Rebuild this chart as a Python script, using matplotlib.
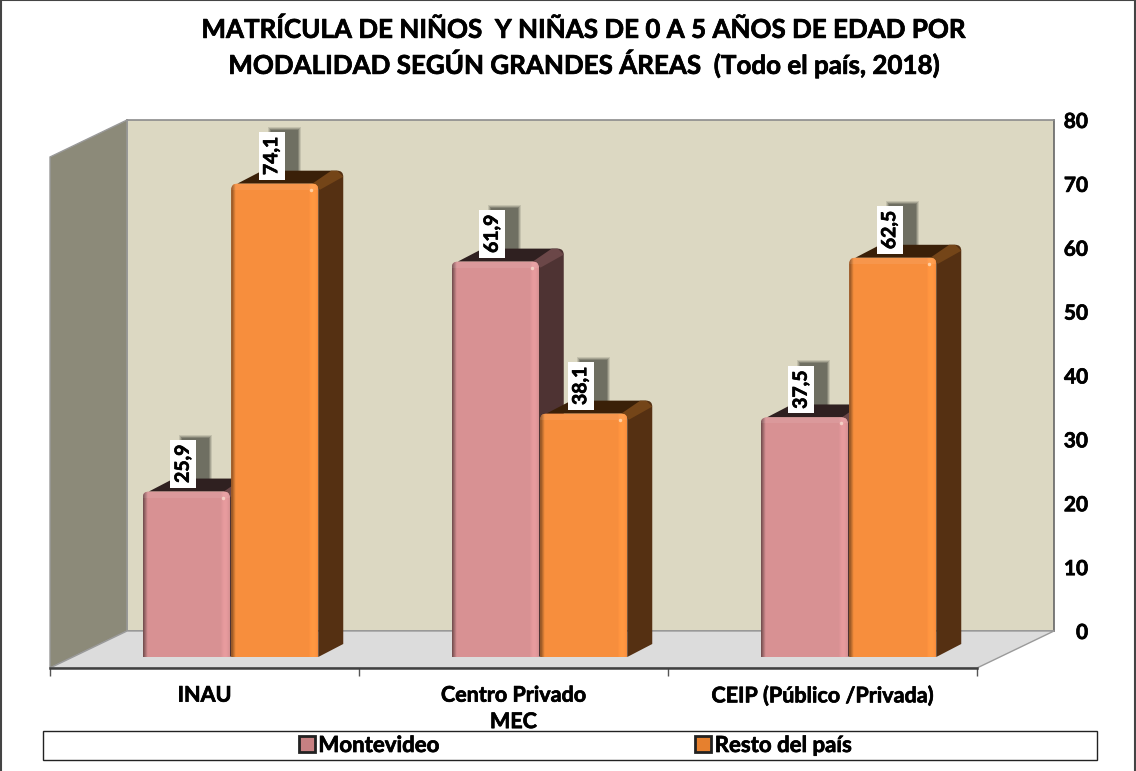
import numpy as np
import matplotlib
matplotlib.use("Agg")
import matplotlib.pyplot as plt
import matplotlib.patheffects as pe
from matplotlib.patches import Patch, PathPatch, Polygon, Rectangle
from matplotlib.path import Path
from matplotlib.transforms import IdentityTransform

# ==================== DATA ====================
categories = ['INAU', 'Centro Privado\nMEC', 'CEIP (Público /Privada)']
montevideo = [25.9, 61.9, 37.5]
resto = [74.1, 38.1, 62.5]
series_names = ['Montevideo', 'Resto del país']
y_ticks = [0, 10, 20, 30, 40, 50, 60, 70, 80]
title = 'MATRÍCULA DE NIÑOS  Y NIÑAS DE 0 A 5 AÑOS DE EDAD POR\nMODALIDAD SEGÚN GRANDES ÁREAS  (Todo el país, 2018)'

# ==================== LAYOUT (pixels) ====================
W, H = 1136, 771
PW, PH = 927, 511        # size of one chart plane
CAT_PX = PW / 3          # pixels per category
VAL_PX = PH / 80         # pixels per value unit

plt.rcParams['font.family'] = ['Lato', 'DejaVu Sans']
plt.rcParams['font.weight'] = 'bold'

fig = plt.figure(figsize=(W / 100, H / 100), dpi=100, facecolor='white')
heavy = [pe.withStroke(linewidth=0.5, foreground='black')]


def plane_axes(left, base):
    a = fig.add_axes([left / W, 1 - base / H, PW / W, PH / H])
    a.set_xlim(-0.5, 2.5)
    a.set_ylim(0, 80)
    return a


# ==================== BACK WALL + VALUE AXIS ====================
back = plane_axes(127, 631)
back.set_facecolor('#dcd8c2')
for s in back.spines.values():
    s.set_color('#8c8c8c')
    s.set_linewidth(1.2)
back.spines['right'].set_color('#666666')
back.set_xticks([])
back.yaxis.tick_right()
back.set_yticks(y_ticks)
back.tick_params(axis='y', length=0, pad=24.5, labelsize=15)
for lab in back.get_yticklabels():
    lab.set_ha('right')
    lab.set_path_effects(heavy)

# ==================== FRONT PLANE: SIDE WALL, FLOOR, CATEGORIES ====================
front = plane_axes(50, 668)
front.patch.set_visible(False)
for name in ['top', 'left', 'right']:
    front.spines[name].set_visible(False)
front.spines['bottom'].set_color('#404040')
front.spines['bottom'].set_linewidth(1.8)
front.set_yticks([])
front.set_xticks([-0.5, 0.5, 1.5, 2.5])
front.set_xticklabels([])
front.set_xticks([0, 1, 2], minor=True)
front.set_xticklabels(categories, minor=True, fontsize=15.5, linespacing=1.32)
front.tick_params(axis='x', which='major', length=6, width=1, color='#555555')
front.tick_params(axis='x', which='minor', length=0, pad=12)
for lab in front.get_xticklabels(minor=True):
    lab.set_path_effects(heavy)

wall_dx = 77 / CAT_PX
wall_dy = 37 / VAL_PX
front.add_patch(Polygon([(-0.5, 0), (-0.5 + wall_dx, wall_dy), (-0.5 + wall_dx, 80 + wall_dy), (-0.5, 80)],
                        fc='#8c8a79', ec='#9a9a9a', lw=1, clip_on=False))
front.add_patch(Polygon([(-0.5, 0), (2.5, 0), (2.5 + wall_dx, wall_dy), (-0.5 + wall_dx, wall_dy)],
                        fc='#dcdcdc', ec='#9a9a9a', lw=1, clip_on=False))

# ==================== BARS ====================
ax = plane_axes(76, 657)
ax.axis('off')

bar_w = 87 / CAT_PX
bar_off = 44.25 / CAT_PX
dx = 25 / CAT_PX         # bar depth
dy = 13 / VAL_PX
rx = 6 / CAT_PX          # corner radius
ry = 6 / VAL_PX

colors = {
    'Montevideo': dict(face=(0.85, 0.57, 0.58), side='#4e3333', top='#2f2020', rim='#6b4748'),
    'Resto del país': dict(face=(0.97, 0.56, 0.24), side='#553012', top='#3a2008', rim='#744518'),
}


def rounded_top(x0, x1, y0, y1):
    verts = [(x0, y0), (x0, y1 - ry), (x0, y1), (x0 + rx, y1), (x1 - rx, y1), (x1, y1), (x1, y1 - ry),
             (x1, y0), (x0, y0)]
    codes = [Path.MOVETO, Path.LINETO, Path.CURVE3, Path.CURVE3, Path.LINETO, Path.CURVE3, Path.CURVE3,
             Path.LINETO, Path.CLOSEPOLY]
    return Path(verts, codes)


def bevel(base):
    # dark left edge, flat middle, slightly lighter right edge
    pos = np.linspace(0, 1, 87)
    shade = np.ones_like(pos)
    shade = np.where(pos < 0.05, 0.55 + 0.45 * pos / 0.05, shade)
    shade = np.where(pos > 0.9, 1 + 0.07 * np.sin((pos - 0.9) / 0.1 * np.pi), shade)
    return np.clip(np.array(base)[None, None, :] * shade[None, :, None], 0, 1)


def draw_bar(rect, col, z):
    x0, x1 = rect.get_x(), rect.get_x() + rect.get_width()
    top = rect.get_height()
    # side + top faces
    ax.add_patch(PathPatch(Path([(x1, 0), (x1 + dx, dy), (x1 + dx, top + dy - ry), (x1 + dx, top + dy),
                                 (x1 + dx - rx, top + dy), (x1, top), (x1, 0)],
                                [Path.MOVETO, Path.LINETO, Path.LINETO, Path.CURVE3, Path.CURVE3,
                                 Path.LINETO, Path.CLOSEPOLY]),
                           fc=col['side'], ec='none', zorder=z, clip_on=False))
    ax.add_patch(Polygon([(x0 + rx, top), (x0 + dx + rx, top + dy), (x1 + dx - rx, top + dy), (x1, top)],
                         fc=col['top'], ec='none', zorder=z, clip_on=False))
    ax.add_patch(Polygon([(x1 - rx, top), (x1 + dx - 2 * rx, top + dy), (x1 + dx - rx, top + dy),
                          (x1 + dx, top + dy - ry), (x1 + rx * 0.3, top - ry)],
                         fc=col['rim'], ec='none', zorder=z, clip_on=False))
    # front face
    shape = PathPatch(rounded_top(x0, x1, 0, top), fc='none', ec='none', zorder=z + 0.1, clip_on=False)
    ax.add_patch(shape)
    rect.set_zorder(z + 0.1)
    rect.set_clip_path(shape)
    im = ax.imshow(bevel(col['face']), extent=(x0, x1, 0, top), aspect='auto', zorder=z + 0.2,
                   interpolation='bilinear', clip_on=True)
    im.set_clip_path(shape)
    hi = Rectangle((x0, top - 6 / VAL_PX), x1 - x0, 6 / VAL_PX, fc='white', alpha=0.08, ec='none', zorder=z + 0.3)
    ax.add_patch(hi)
    hi.set_clip_path(shape)
    ax.plot([x1 - 7 / CAT_PX], [top - 6 / VAL_PX], 'o', ms=2.5, mfc='#fff4e0', mec='none', alpha=0.6,
            zorder=z + 0.4, clip_on=False)


x = np.arange(len(categories))
rects_m = ax.bar(x - bar_off, montevideo, bar_w, color=[colors['Montevideo']['face']])
rects_r = ax.bar(x + bar_off, resto, bar_w, color=[colors['Resto del país']['face']])

for i in range(len(categories)):
    draw_bar(rects_m[i], colors['Montevideo'], 3 + i)
    draw_bar(rects_r[i], colors['Resto del país'], 3.5 + i)

ax.set_xlim(-0.5, 2.5)
ax.set_ylim(0, 80)

# ==================== DATA LABELS ====================
for rect in list(rects_m) + list(rects_r):
    xc = rect.get_x() + rect.get_width() / 2
    v = rect.get_height()
    txt = f'{v:.1f}'.replace('.', ',')
    # blurred shadow behind the label, placed in pixels from the bar top
    px, py = ax.transData.transform((xc, v))
    for grow, alpha in [(2, 0.2), (1, 0.3), (0, 0.5), (-1, 0.7)]:
        ax.add_patch(Rectangle((px - 5 - grow, py + 8), 29 + 2 * grow, 47 + grow, fc='#66665a', ec='none',
                               alpha=alpha, zorder=1, transform=IdentityTransform(), clip_on=False))
    t = ax.annotate(txt, (xc, v), xytext=(-2.2, 6.2), textcoords='offset points', rotation=90, ha='center',
                    va='bottom', fontsize=14, color='black', annotation_clip=False, zorder=20,
                    bbox=dict(boxstyle=f'square,pad={3.3 / 14}', fc='white', ec='none'))
    t.set_path_effects(heavy)

# ==================== TITLE + LEGEND + FRAME ====================
fig.text(585 / W, 1 - 47.5 / H, title, ha='center', va='center', fontsize=18.7, linespacing=1.28,
         path_effects=heavy)

fig.add_artist(Rectangle((43 / W, 1 - 760 / H), 1054 / W, 29 / H, transform=fig.transFigure,
                         fc='white', ec='#222222', lw=1))
fig.add_artist(Rectangle((1 / W, -0.01), 1134 / W, 1.01, transform=fig.transFigure, fc='none', ec='#444444', lw=1.5))

handles = [Patch(fc=(0.78, 0.50, 0.51), ec='#222222', lw=2), Patch(fc=(0.90, 0.50, 0.18), ec='#222222', lw=2)]
leg = fig.legend(handles, series_names, ncol=2, frameon=False, loc='center left',
                 bbox_to_anchor=(299 / W, 1 - 745.5 / H), fontsize=16, handlelength=0.72, handleheight=0.72,
                 handletextpad=0.15, columnspacing=11.5, borderpad=0, borderaxespad=0)
for t in leg.get_texts():
    t.set_path_effects(heavy)

fig.savefig('out.png', dpi=100)
